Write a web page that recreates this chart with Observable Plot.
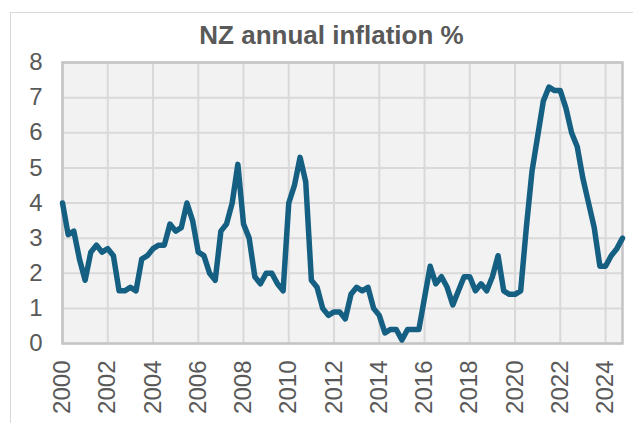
<!DOCTYPE html>
<html>
<head>
<meta charset="utf-8">
<script src="https://cdn.jsdelivr.net/npm/d3@7"></script>
<script src="https://cdn.jsdelivr.net/npm/@observablehq/plot@0.6"></script>
<style>
  html, body { margin: 0; padding: 0; background: #fff; overflow: hidden; }
  body { width: 633px; height: 423px; position: relative; font-family: "Liberation Sans", Arial, sans-serif; }
  #box { position: absolute; left: 10px; top: 12px; width: 700px; height: 500px; border: 1px solid #d9d9d9; box-sizing: border-box; }
  #title { position: absolute; left: 0; top: 22px; width: 663px; text-align: center; font-size: 26px; line-height: 26px; font-weight: bold; color: #595959; }
  #chart { position: absolute; left: 0; top: 0; }
</style>
</head>
<body>
<div id="box"></div>
<div id="title">NZ annual inflation %</div>
<div id="chart"></div>
<script>
// Quarterly annual CPI inflation, from 2000 Q4 (first point) to 2025 Q3
const firstYear = 2000;          // first point sits on the "2000" gridline
const quarterStep = 0.25;
const inflation = [
  4.0,                         // 2000 Q4
  3.1, 3.2, 2.4, 1.8,          // 2001
  2.6, 2.8, 2.6, 2.7,          // 2002
  2.5, 1.5, 1.5, 1.6,          // 2003
  1.5, 2.4, 2.5, 2.7,          // 2004
  2.8, 2.8, 3.4, 3.2,          // 2005
  3.3, 4.0, 3.5, 2.6,          // 2006
  2.5, 2.0, 1.8, 3.2,          // 2007
  3.4, 4.0, 5.1, 3.4,          // 2008
  3.0, 1.9, 1.7, 2.0,          // 2009
  2.0, 1.7, 1.5, 4.0,          // 2010
  4.5, 5.3, 4.6, 1.8,          // 2011
  1.6, 1.0, 0.8, 0.9,          // 2012
  0.9, 0.7, 1.4, 1.6,          // 2013
  1.5, 1.6, 1.0, 0.8,          // 2014
  0.3, 0.4, 0.4, 0.1,          // 2015
  0.4, 0.4, 0.4, 1.3,          // 2016
  2.2, 1.7, 1.9, 1.6,          // 2017
  1.1, 1.5, 1.9, 1.9,          // 2018
  1.5, 1.7, 1.5, 1.9,          // 2019
  2.5, 1.5, 1.4, 1.4,          // 2020
  1.5, 3.3, 4.9, 5.9,          // 2021
  6.9, 7.3, 7.2, 7.2,          // 2022
  6.7, 6.0, 5.6, 4.7,          // 2023
  4.0, 3.3, 2.2, 2.2,          // 2024
  2.5, 2.7, 3.0                // 2025
];
const xTickLabels = [2000, 2002, 2004, 2006, 2008, 2010, 2012, 2014, 2016, 2018, 2020, 2022, 2024];
const yTickLabels = [0, 1, 2, 3, 4, 5, 6, 7, 8];

const rows = inflation.map((v, i) => ({ t: firstYear + i * quarterStep, v }));
const xMax = firstYear + (inflation.length - 1) * quarterStep;

const chart = Plot.plot({
  width: 633,
  height: 423,
  marginLeft: 62,
  marginTop: 62,
  marginRight: 11,
  marginBottom: 80,
  style: { fontFamily: "'Liberation Sans', Arial, sans-serif", fontSize: "24px", color: "#595959", background: "transparent", overflow: "visible" },
  x: { domain: [firstYear, xMax] },
  y: { domain: [0, 8] },
  marks: [
    Plot.frame({ fill: "#f2f2f2", stroke: null }),
    Plot.gridX(xTickLabels, { stroke: "#d9d9d9", strokeOpacity: 1, strokeWidth: 2 }),
    Plot.gridY(yTickLabels, { stroke: "#d9d9d9", strokeOpacity: 1, strokeWidth: 2 }),
    Plot.frame({ stroke: "#c4c4c4", strokeWidth: 2.5 }),
    Plot.axisX(xTickLabels, { tickSize: 0, tickPadding: 17, tickRotate: -90, tickFormat: d => String(d), fill: "#595959", fontSize: 24, label: null }),
    Plot.axisY(yTickLabels, { tickSize: 0, tickPadding: 20, tickFormat: d => String(d), fill: "#595959", fontSize: 24, label: null }),
    Plot.lineY(rows, { x: "t", y: "v", stroke: "#156082", strokeWidth: 5.5, strokeLinejoin: "round", strokeLinecap: "round" })
  ]
});
document.getElementById("chart").appendChild(chart);
</script>
</body>
</html>
